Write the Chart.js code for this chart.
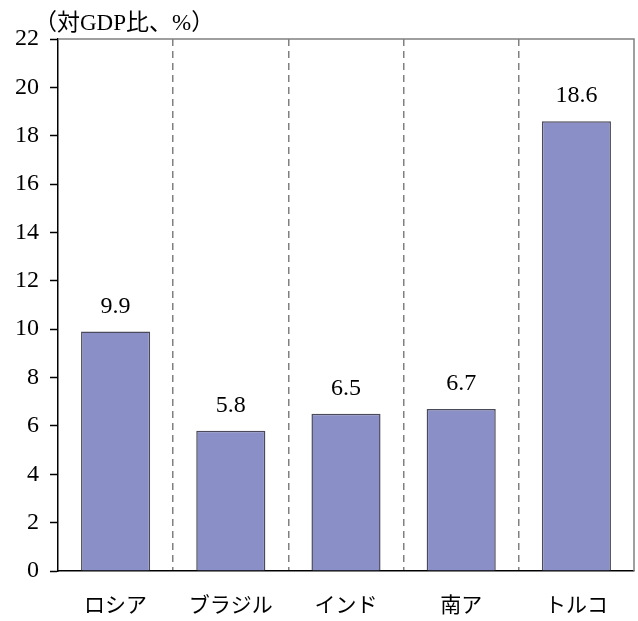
<!DOCTYPE html>
<html>
<head>
<meta charset="utf-8">
<script src="https://cdn.jsdelivr.net/npm/chart.js@4"></script>
<style>
  html, body { margin: 0; padding: 0; background: #ffffff; }
  #wrap { position: relative; width: 638px; height: 621px; }
</style>
</head>
<body>
<div id="wrap"><canvas id="c" width="638" height="621"></canvas></div>
<script>
// Ratio to GDP by country (%)
const categories = ['ロシア', 'ブラジル', 'インド', '南ア', 'トルコ'];
const values = [9.9, 5.8, 6.5, 6.7, 18.6];
const valueLabels = ['9.9', '5.8', '6.5', '6.7', '18.6'];
const yTicks = [0, 2, 4, 6, 8, 10, 12, 14, 16, 18, 20, 22];
const unitLabel = '（対GDP比、%）';

const serif = '"Liberation Serif", "Times New Roman", "Noto Sans CJK JP", serif';
const jp = '"Liberation Serif", "Noto Sans CJK JP", serif';

// Top and right frame lines plus unit caption
const framePlugin = {
  id: 'frame',
  afterDraw(chart) {
    const { ctx, chartArea: a } = chart;
    ctx.save();
    ctx.strokeStyle = '#808080';
    ctx.lineWidth = 1.5;
    ctx.beginPath();
    ctx.moveTo(a.left, a.top);
    ctx.lineTo(a.right, a.top);
    ctx.lineTo(a.right, a.bottom);
    ctx.stroke();
    ctx.fillStyle = '#000';
    ctx.font = '23px ' + jp;
    ctx.textAlign = 'left';
    ctx.textBaseline = 'alphabetic';
    ctx.fillText(unitLabel, 34, 30);
    ctx.restore();
  }
};

// Value labels above each bar
const valueLabelPlugin = {
  id: 'valueLabels',
  afterDatasetsDraw(chart) {
    const { ctx } = chart;
    const meta = chart.getDatasetMeta(0);
    ctx.save();
    ctx.fillStyle = '#000';
    ctx.font = '24px ' + serif;
    ctx.textAlign = 'center';
    ctx.textBaseline = 'alphabetic';
    meta.data.forEach((bar, i) => {
      ctx.fillText(valueLabels[i], bar.x, bar.y - 19);
    });
    ctx.restore();
  }
};

new Chart(document.getElementById('c'), {
  type: 'bar',
  data: {
    labels: categories,
    datasets: [{
      data: values,
      backgroundColor: '#8A8FC7',
      borderColor: '#4a4a5a',
      borderWidth: 1.5,
      borderSkipped: 'bottom',
      barPercentage: 0.6,
      categoryPercentage: 1.0
    }]
  },
  options: {
    responsive: false,
    animation: false,
    layout: { padding: { top: 39, right: 4, left: 0, bottom: 0 } },
    plugins: { legend: { display: false }, tooltip: { enabled: false } },
    scales: {
      x: {
        offset: true,
        grid: {
          offset: true,
          drawTicks: false,
          lineWidth: 1.5,
          color: (c) => (c.type !== 'tick' || c.index === 0) ? 'rgba(0,0,0,0)' : '#808080',
          drawOnChartArea: true
        },
        border: { display: true, color: '#000', width: 1.5, dash: [7, 5] },
        ticks: {
          color: '#000',
          font: { family: jp, size: 21 },
          padding: 23
        },
        afterFit(s) { s.height = 50; }
      },
      y: {
        min: 0,
        max: 22,
        afterBuildTicks(s) { s.ticks = yTicks.map(v => ({ value: v })); },
        grid: {
          drawOnChartArea: false,
          drawTicks: true,
          tickLength: 8,
          tickColor: '#000',
          tickWidth: 1.5
        },
        border: { display: true, color: '#000', width: 1.5 },
        ticks: {
          color: '#000',
          font: { family: serif, size: 24 },
          padding: 11
        },
        afterFit(s) { s.width = 58; }
      }
    }
  },
  plugins: [framePlugin, valueLabelPlugin]
});
</script>
</body>
</html>
